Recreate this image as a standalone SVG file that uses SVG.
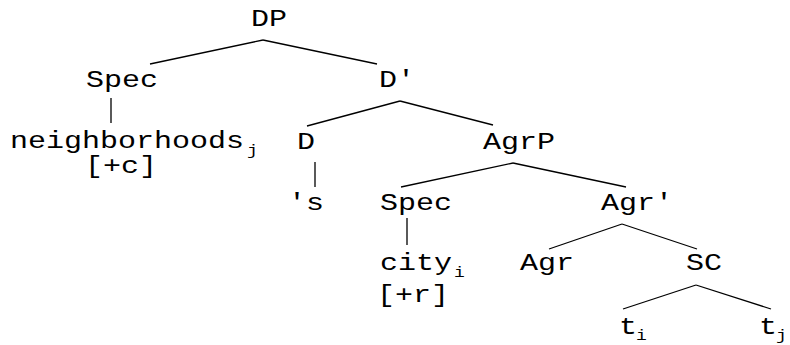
<svg xmlns="http://www.w3.org/2000/svg" width="790" height="345" viewBox="0 0 790 345">
<style>
text{font-family:"Liberation Mono","DejaVu Sans Mono",monospace;font-size:30px;fill:#000}
.sub{font-size:18px}
.edges line{stroke:#000;stroke-width:1.3}
</style>
<rect width="790" height="345" fill="#fff"/>
<g class="edges">
<line x1="150" y1="64" x2="263" y2="40"/>
<line x1="263" y1="40" x2="377" y2="64"/>
<line x1="111" y1="98" x2="111" y2="123"/>
<line x1="307" y1="126" x2="400" y2="101"/>
<line x1="400" y1="101" x2="493" y2="125"/>
<line x1="315" y1="162" x2="315" y2="187"/>
<line x1="401" y1="187" x2="513" y2="163"/>
<line x1="513" y1="163" x2="626" y2="187"/>
<line x1="407" y1="218" x2="407" y2="245"/>
<line x1="549" y1="249" x2="622" y2="224"/>
<line x1="622" y1="224" x2="697" y2="249"/>
<line x1="623" y1="309" x2="696" y2="285"/>
<line x1="696" y1="285" x2="771" y2="309"/>
</g>
<g transform="scale(1,0.8)">
<g id="n-DP"><text x="251" y="32.5">DP</text></g>
<g id="n-Spec1"><text x="86" y="108.75">Spec</text></g>
<g id="n-Dbar"><text x="379" y="108.75">D'</text></g>
<g id="n-neigh"><text x="10" y="185">neighborhoods</text><text class="sub" x="247" y="193.75">j</text><text x="85" y="216.25">[+c]</text></g>
<g id="n-D"><text x="297" y="186.25">D</text></g>
<g id="n-AgrP"><text x="483" y="186.25">AgrP</text></g>
<g id="n-s"><text x="288" y="262.5">'s</text></g>
<g id="n-Spec2"><text x="380" y="262.5">Spec</text></g>
<g id="n-Agrbar"><text x="601" y="262.5">Agr'</text></g>
<g id="n-city"><text x="380" y="337.5">city</text><text class="sub" x="454" y="346.25">i</text><text x="377" y="377.5">[+r]</text></g>
<g id="n-Agr"><text x="520" y="337.5">Agr</text></g>
<g id="n-SC"><text x="686" y="337.5">SC</text></g>
<g id="n-ti"><text x="619" y="417.5">t</text><text class="sub" x="636" y="425">i</text></g>
<g id="n-tj"><text x="759" y="417.5">t</text><text class="sub" x="776" y="425">j</text></g>
</g>
</svg>
